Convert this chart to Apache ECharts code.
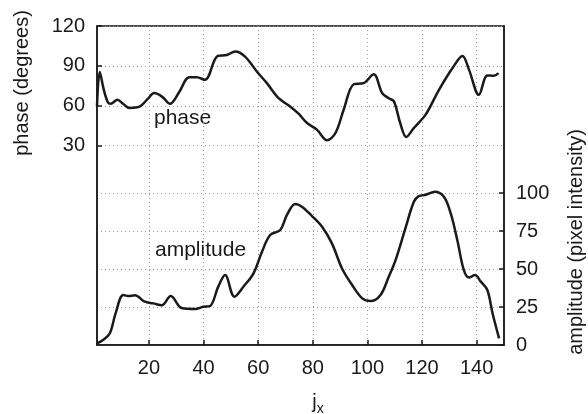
<!DOCTYPE html>
<html>
<head>
<meta charset="utf-8">
<script src="https://cdn.jsdelivr.net/npm/echarts@6/dist/echarts.min.js"></script>
<style>
  html, body { margin: 0; padding: 0; background: #fff; }
  #chart { width: 588px; height: 414px; }
</style>
</head>
<body>
<div id="chart"></div>
<script>
// phase curve: [j_x, degrees]
const phasePoints = [
  [1, 59.5], [2, 85.3], [3.5, 72], [5, 62.5], [6, 61.5], [8.5, 64.5], [10.5, 61.5],
  [13, 58.3], [16.7, 59.5], [19.5, 65], [22, 69.5], [25, 66.5], [27.7, 61.5],
  [31, 70], [34.8, 81.5], [37.5, 81.5], [40.5, 79.5], [45.2, 97.5], [48.5, 98.2],
  [51.6, 100.8], [55.2, 97], [59.5, 85.8], [63.2, 77], [67.5, 65.7], [71.7, 59.5],
  [74.8, 54], [77.9, 47], [81.5, 42], [85.2, 34], [88.3, 39.5], [91.3, 57],
  [95, 76.2], [98.6, 77], [102.3, 83.7], [105.4, 69.5], [107.8, 65.7], [109.7, 63.3],
  [112, 47], [114.2, 36.5], [117, 43.3], [121.3, 53.3], [126.2, 72], [131.1, 88.2],
  [134.8, 97.5], [137.2, 87], [140.8, 68.2], [143.9, 82.8], [146.3, 82.5], [148, 84.5]
]

// amplitude curve: [j_x, pixel intensity]
const ampPoints = [
  [1, 1.1], [3.2, 3.3], [5.7, 7.7], [7.8, 20.8], [10.6, 32.9], [12.4, 32.2],
  [14.9, 32.7], [18.5, 28.5], [21.6, 27.4], [24.7, 26.1], [28, 32.2], [32, 24.3],
  [36.9, 23.7], [39.9, 25.2], [42.4, 25.7], [45.4, 38.4], [47.9, 46], [51.3, 31.8],
  [54.6, 38.4], [58.3, 47.2], [61.4, 61.4], [64.4, 72.4], [68.1, 75.7], [70.5, 85.5],
  [73.6, 92.8], [76, 91], [79.7, 84.9], [83.4, 77.8], [87, 66.9], [90.7, 50.4],
  [94.4, 39.5], [98.1, 30.7], [101.1, 28.9], [104.8, 32.9], [107.8, 44.9],
  [110.3, 55.9], [113.9, 76.8], [117, 94.3], [118.8, 98], [121.3, 98.9],
  [124.7, 100.9], [128, 97.6], [130.5, 86.6], [132.9, 69.1], [135.3, 49.3],
  [137.2, 44.5], [139.4, 46], [141.5, 41.7], [143.9, 36.2], [145.8, 20.9], [148.2, 4.4]
]

const xTicks = [20, 40, 60, 80, 100, 120, 140]
const phaseTicks = [30, 60, 90, 120]
const ampTicks = [0, 25, 50, 75, 100]

const FONT = 'Liberation Sans, Arial, Helvetica, sans-serif'
const INK = '#1a1a1a'
const gridLine = { show: true, lineStyle: { color: '#9a9a9a', type: [1, 3], width: 1 } }

const chart = echarts.init(document.getElementById('chart'))
chart.setOption({
  animation: false,
  textStyle: { fontFamily: FONT },
  grid: {
    left: 97, right: 84, top: 26, bottom: 69,
    show: true, borderColor: INK, borderWidth: 1.5
  },
  xAxis: {
    type: 'value',
    min: 1,
    max: 150,
    axisLine: { show: true, onZero: false, lineStyle: { color: INK, width: 1.5 } },
    axisTick: { inside: true, length: 5, customValues: xTicks, lineStyle: { color: INK, width: 1.5 } },
    axisLabel: { customValues: xTicks, color: INK, fontSize: 20, margin: 13 },
    splitLine: gridLine
  },
  yAxis: [
    {
      type: 'value',
      min: -120,
      max: 120,
      position: 'left',
      axisLine: { show: true, lineStyle: { color: INK, width: 1.5 } },
      axisTick: { show: true, inside: true, length: 5, customValues: phaseTicks, lineStyle: { color: INK, width: 1.5 } },
      axisLabel: { customValues: phaseTicks, color: INK, fontSize: 20, margin: 12 },
      splitLine: gridLine
    },
    {
      type: 'value',
      min: 0,
      max: 210,
      position: 'right',
      axisLine: { show: true, lineStyle: { color: INK, width: 1.5 } },
      axisTick: { show: true, inside: true, length: 5, customValues: ampTicks, lineStyle: { color: INK, width: 1.5 } },
      axisLabel: { customValues: ampTicks, color: INK, fontSize: 20, margin: 12 },
      splitLine: gridLine
    }
  ],
  series: [
    {
      name: 'phase',
      type: 'line',
      yAxisIndex: 0,
      data: phasePoints,
      smooth: 0.35,
      symbol: 'none',
      lineStyle: { color: INK, width: 2.5 }
    },
    {
      name: 'amplitude',
      type: 'line',
      yAxisIndex: 1,
      data: ampPoints,
      smooth: 0.35,
      symbol: 'none',
      lineStyle: { color: INK, width: 2.5 }
    }
  ],
  graphic: [
    { type: 'text', left: 154, top: 108, style: { text: 'phase', font: '21px ' + FONT, fill: INK } },
    { type: 'text', left: 155, top: 240, style: { text: 'amplitude', font: '21px ' + FONT, fill: INK } },
    {
      type: 'text', x: 22, y: 83, rotation: Math.PI / 2,
      style: { text: 'phase (degrees)', font: '20px ' + FONT, fill: INK, align: 'center', verticalAlign: 'middle' }
    },
    {
      type: 'text', x: 576, y: 242, rotation: Math.PI / 2,
      style: { text: 'amplitude (pixel intensity)', font: '20px ' + FONT, fill: INK, align: 'center', verticalAlign: 'middle' }
    },
    {
      type: 'text', x: 318, y: 402,
      style: {
        text: 'j{s|x}',
        align: 'center', verticalAlign: 'middle',
        rich: {
          s: { fontSize: 14, fontFamily: FONT, fill: INK, padding: [14, 0, 0, 0] }
        },
        font: '20px ' + FONT, fill: INK
      }
    }
  ]
})
</script>
</body>
</html>
